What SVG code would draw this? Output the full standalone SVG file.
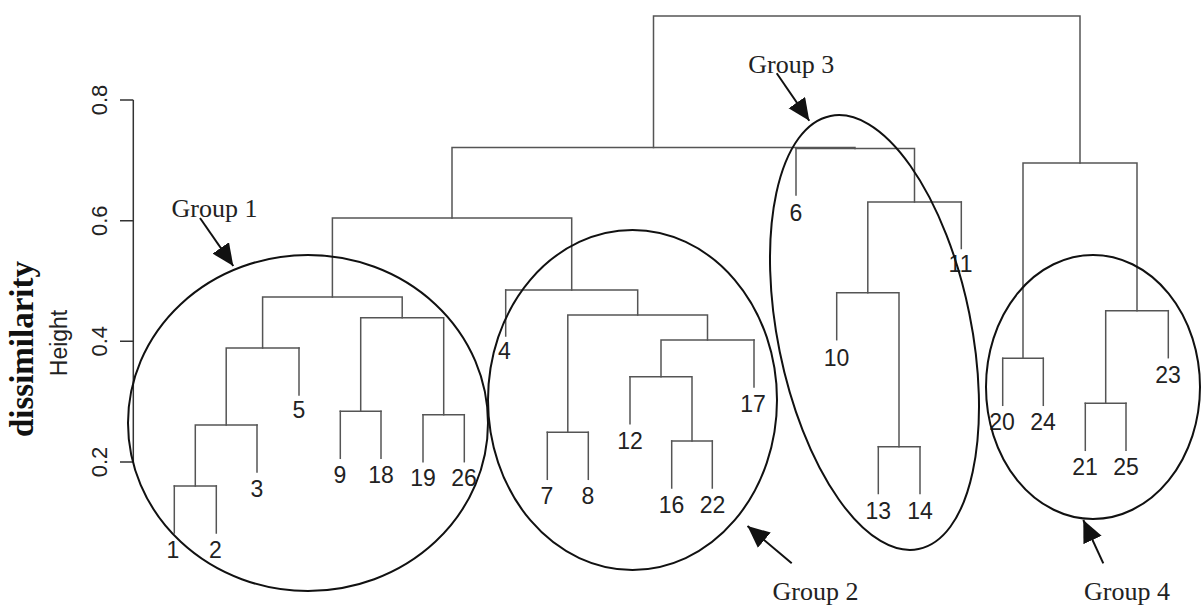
<svg xmlns="http://www.w3.org/2000/svg" width="1201" height="605" viewBox="0 0 1201 605">
<defs>
<style>
.bg{fill:#ffffff}
.tree{fill:none;stroke:#555555;stroke-width:1.5;stroke-linecap:square}
.axis{fill:none;stroke:#333333;stroke-width:1.5}
.ell{fill:none;stroke:#111111;stroke-width:2}
.lbl{font-family:"Liberation Sans Narrow","Liberation Sans",Arial,sans-serif;font-size:23px;fill:#222222;text-anchor:middle}
.tick{font-family:"Liberation Sans Narrow","Liberation Sans",Arial,sans-serif;font-size:22px;fill:#222222;text-anchor:middle}
.grp{font-family:"Liberation Serif","Times New Roman",serif;font-size:26px;fill:#222222}
.ttl{font-family:"Liberation Serif","Times New Roman",serif;font-size:33px;font-weight:bold;fill:#111111;text-anchor:middle}
.arr{fill:none;stroke:#111111;stroke-width:2;marker-end:url(#ah)}
</style>
<marker id="ah" markerUnits="userSpaceOnUse" markerWidth="24" markerHeight="22" refX="22" refY="10" orient="auto">
<path d="M0,0 L22,10 L0,20 Z" fill="#111111"/>
</marker>
</defs>
<rect class="bg" x="0" y="0" width="1201" height="605"/>

<g id="axis">
<path class="axis" d="M133.3 100 V462 M120 100 H133.3 M120 220.7 H133.3 M120 341.3 H133.3 M120 462 H133.3"/>
<text class="tick" transform="translate(107 100) rotate(-90)">0.8</text>
<text class="tick" transform="translate(107 220.7) rotate(-90)">0.6</text>
<text class="tick" transform="translate(107 341.3) rotate(-90)">0.4</text>
<text class="tick" transform="translate(107 462) rotate(-90)">0.2</text>
<text class="lbl" transform="translate(67 343) rotate(-90)">Height</text>
<text class="ttl" transform="translate(33 349) rotate(-90)">dissimilarity</text>
</g>

<g id="connectors">
<path class="tree" d="M174.3 486 H216.3"/>
<path class="tree" d="M195.3 486 V425 H257"/>
<path class="tree" d="M226.2 425 V348 H299"/>
<path class="tree" d="M340.3 411.3 H381"/>
<path class="tree" d="M423 414.7 H464.3"/>
<path class="tree" d="M360.7 411.3 V317.7 H443.7 V414.7"/>
<path class="tree" d="M262.6 348 V297 H402.2 V317.7"/>
<path class="tree" d="M547.3 432.3 H588.3"/>
<path class="tree" d="M671.7 441 H712.3"/>
<path class="tree" d="M630 376.7 H692 V441"/>
<path class="tree" d="M661 376.7 V340 H754"/>
<path class="tree" d="M567.8 432.3 V315 H707.5 V340"/>
<path class="tree" d="M505.7 290 H637.7 V315"/>
<path class="tree" d="M332.4 297 V218 H571.7 V290"/>
<path class="tree" d="M878.3 446.7 H920"/>
<path class="tree" d="M836.7 292.7 H899 V446.7"/>
<path class="tree" d="M867.8 292.7 V202 H961.3"/>
<path class="tree" d="M796 148.5 H914.5 V202"/>
<path class="tree" d="M452 218 V147.5 H855 V148.5"/>
<path class="tree" d="M1002.7 358.3 H1043.3"/>
<path class="tree" d="M1085.3 403.3 H1126"/>
<path class="tree" d="M1105.7 403.3 V310.7 H1168.3"/>
<path class="tree" d="M1023 358.3 V163 H1137 V310.7"/>
<path class="tree" d="M653.5 147.5 V16 H1080 V163"/>
</g>

<g id="leaf-1"><path class="tree" d="M174.3 486 V533"/><text class="lbl" x="173" y="558">1</text></g>
<g id="leaf-2"><path class="tree" d="M216.3 486 V533"/><text class="lbl" x="215.5" y="558">2</text></g>
<g id="leaf-3"><path class="tree" d="M257 425 V472"/><text class="lbl" x="257" y="497">3</text></g>
<g id="leaf-5"><path class="tree" d="M299 348 V395"/><text class="lbl" x="299" y="418">5</text></g>
<g id="leaf-9"><path class="tree" d="M340.3 411.3 V458.3"/><text class="lbl" x="340" y="483">9</text></g>
<g id="leaf-18"><path class="tree" d="M381 411.3 V458.3"/><text class="lbl" x="381" y="483">18</text></g>
<g id="leaf-19"><path class="tree" d="M423 414.7 V461.7"/><text class="lbl" x="423" y="486">19</text></g>
<g id="leaf-26"><path class="tree" d="M464.3 414.7 V461.7"/><text class="lbl" x="464" y="486">26</text></g>
<g id="leaf-4"><path class="tree" d="M505.7 290 V336"/><text class="lbl" x="504.5" y="359">4</text></g>
<g id="leaf-7"><path class="tree" d="M547.3 432.3 V479.3"/><text class="lbl" x="547" y="504">7</text></g>
<g id="leaf-8"><path class="tree" d="M588.3 432.3 V479.3"/><text class="lbl" x="588" y="504">8</text></g>
<g id="leaf-12"><path class="tree" d="M630 376.7 V423.7"/><text class="lbl" x="630" y="449">12</text></g>
<g id="leaf-16"><path class="tree" d="M671.7 441 V488"/><text class="lbl" x="671.5" y="513">16</text></g>
<g id="leaf-22"><path class="tree" d="M712.3 441 V488"/><text class="lbl" x="712.5" y="513">22</text></g>
<g id="leaf-17"><path class="tree" d="M754 340 V387"/><text class="lbl" x="753" y="412">17</text></g>
<g id="leaf-6"><path class="tree" d="M796 148.5 V195"/><text class="lbl" x="796" y="221">6</text></g>
<g id="leaf-11"><path class="tree" d="M961.3 202 V248.5"/><text class="lbl" x="960.5" y="272">11</text></g>
<g id="leaf-10"><path class="tree" d="M836.7 292.7 V339.7"/><text class="lbl" x="836.5" y="366">10</text></g>
<g id="leaf-13"><path class="tree" d="M878.3 446.7 V493.5"/><text class="lbl" x="878.3" y="518.5">13</text></g>
<g id="leaf-14"><path class="tree" d="M920 446.7 V493.5"/><text class="lbl" x="920" y="518.5">14</text></g>
<g id="leaf-20"><path class="tree" d="M1002.7 358.3 V405.3"/><text class="lbl" x="1002" y="430">20</text></g>
<g id="leaf-24"><path class="tree" d="M1043.3 358.3 V405.3"/><text class="lbl" x="1043" y="430">24</text></g>
<g id="leaf-21"><path class="tree" d="M1085.3 403.3 V450.3"/><text class="lbl" x="1085" y="475">21</text></g>
<g id="leaf-25"><path class="tree" d="M1126 403.3 V450.3"/><text class="lbl" x="1126" y="475">25</text></g>
<g id="leaf-23"><path class="tree" d="M1168.3 310.7 V357.7"/><text class="lbl" x="1168" y="383">23</text></g>

<g id="group-1">
<ellipse class="ell" cx="308" cy="423" rx="180" ry="168"/>
<text class="grp" x="171.5" y="217">Group 1</text>
<path class="arr" d="M200 218 L233.3 266"/>
</g>
<g id="group-2">
<ellipse class="ell" cx="632.5" cy="400" rx="144.5" ry="170"/>
<text class="grp" x="772.5" y="600">Group 2</text>
<path class="arr" d="M791.7 563.3 L747.5 526"/>
</g>
<g id="group-3">
<ellipse class="ell" cx="874.5" cy="332.5" rx="96.7" ry="221" transform="rotate(-11.5 874.5 332.5)"/>
<text class="grp" x="748.3" y="73">Group 3</text>
<path class="arr" d="M776.7 73.3 L809.3 120.7"/>
</g>
<g id="group-4">
<ellipse class="ell" cx="1093" cy="387" rx="107" ry="132"/>
<text class="grp" x="1084" y="600">Group 4</text>
<path class="arr" d="M1103.3 563.3 L1083.3 520"/>
</g>
</svg>
